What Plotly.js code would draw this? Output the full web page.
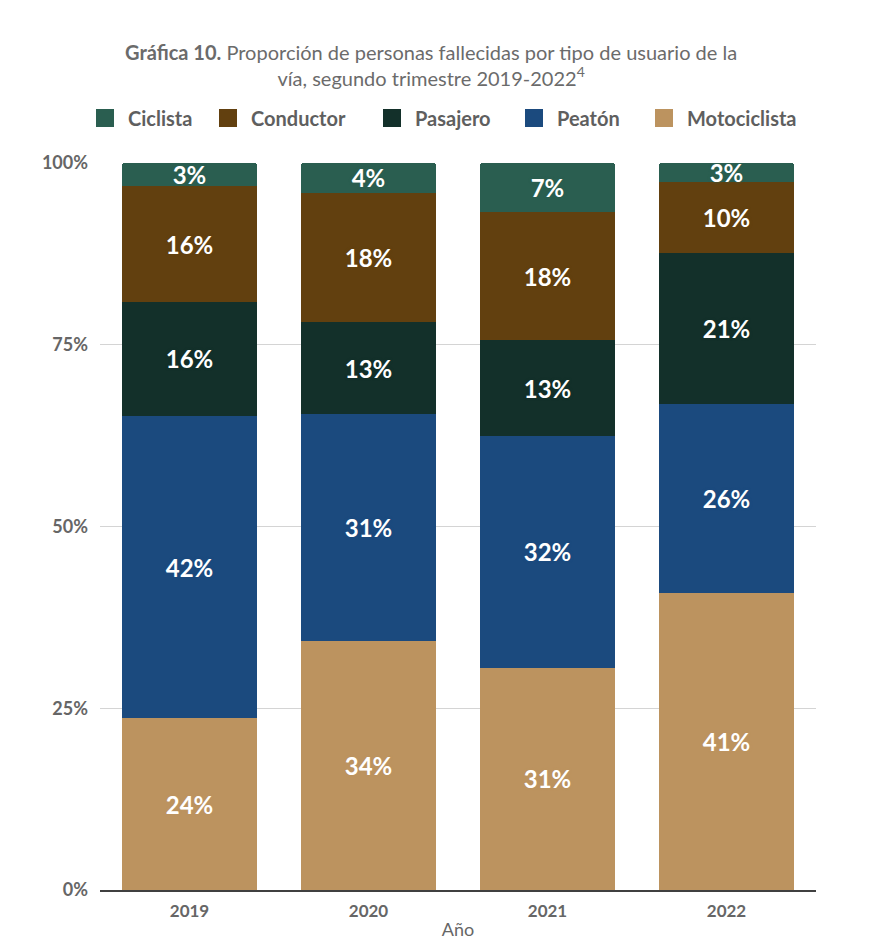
<!DOCTYPE html>
<html>
<head>
<meta charset="utf-8">
<script src="https://cdn.plot.ly/plotly-3.0.1.min.js"></script>
<style>html,body{margin:0;padding:0;background:#fff;}#chart{width:878px;height:946px;}</style>
</head>
<body>
<div id="chart"></div>
<script>
var years = ['2019', '2020', '2021', '2022'];
var motociclista = [23.6, 34.2, 30.6, 40.8];
var peaton = [41.6, 31.3, 31.8, 26.0];
var pasajero = [15.7, 12.6, 13.2, 20.8];
var conductor = [15.9, 17.8, 17.7, 9.8];
var ciclista = [3.2, 4.1, 6.7, 2.6];
var yTickVals = [0, 25, 50, 75, 100];
var yTickText = ['0%', '25%', '50%', '75%', '100%'];

var FONT = 'Lato, "Open Sans", sans-serif';

function series(name, vals, color) {
  return {
    type: 'bar', name: name, x: years, y: vals,
    marker: {color: color},
    texttemplate: '%{y:.0f}%',
    textposition: 'inside',
    insidetextanchor: 'middle',
    constraintext: 'none',
    textfont: {family: FONT, size: 24, color: '#ffffff', weight: 'bold', shadow: '0px 0px 3px ' + color},
    hoverinfo: 'skip',
    showlegend: false
  };
}
function legendEntry(name, color, legendId) {
  return {
    type: 'scatter', mode: 'markers', name: name, x: [null], y: [null],
    marker: {symbol: 'square', size: 16, color: color, line: {color: color, width: 2}},
    legend: legendId, showlegend: true, hoverinfo: 'skip'
  };
}

var colors = {
  'Motociclista': '#bc935f', 'Peatón': '#1b4a7e', 'Pasajero': '#13302a',
  'Conductor': '#62400f', 'Ciclista': '#2a5e50'
};

var data = [
  series('Motociclista', motociclista, colors['Motociclista']),
  series('Peatón', peaton, colors['Peatón']),
  series('Pasajero', pasajero, colors['Pasajero']),
  series('Conductor', conductor, colors['Conductor']),
  series('Ciclista', ciclista, colors['Ciclista']),
  legendEntry('Ciclista', colors['Ciclista'], 'legend'),
  legendEntry('Conductor', colors['Conductor'], 'legend2'),
  legendEntry('Pasajero', colors['Pasajero'], 'legend3'),
  legendEntry('Peatón', colors['Peatón'], 'legend4'),
  legendEntry('Motociclista', colors['Motociclista'], 'legend5')
];

function leg(xpx) {
  return {
    orientation: 'h', x: (xpx - 100) / 716, xanchor: 'left', y: 1.062, yanchor: 'middle',
    font: {family: FONT, size: 20, color: '#5f5f5f', weight: 'bold'},
    itemwidth: 36, bgcolor: 'rgba(0,0,0,0)'
  };
}

var layout = {
  width: 878, height: 946,
  margin: {l: 100, r: 62, t: 163, b: 56},
  paper_bgcolor: '#ffffff', plot_bgcolor: '#ffffff',
  barmode: 'stack',
  bargap: 0.246,
  barcornerradius: 3,
  font: {family: FONT, color: '#666666'},
  title: {
    text: '<b>Gráfica 10.</b> Proporción de personas fallecidas por tipo de usuario de la<br>vía, segundo trimestre 2019-2022<sup>4</sup>',
    font: {family: FONT, size: 20, color: '#6b6b6b'},
    x: 0.491, xanchor: 'center', xref: 'container',
    y: 0.937, yanchor: 'middle', yref: 'container'
  },
  showlegend: true,
  legend: leg(82),
  legend2: leg(205),
  legend3: leg(369),
  legend4: leg(511),
  legend5: leg(641),
  xaxis: {
    type: 'category',
    showline: true, linecolor: '#404040', linewidth: 1.5,
    ticks: '', ticklabelstandoff: 5,
    tickfont: {family: FONT, size: 17, color: '#666666', weight: 'bold'},
    title: {text: 'Año', font: {family: FONT, size: 18, color: '#666666'}, standoff: 3},
    showgrid: false, zeroline: false
  },
  yaxis: {
    range: [0, 100], tickvals: yTickVals, ticktext: yTickText,
    showgrid: true, gridcolor: '#d4d4d4', gridwidth: 1,
    zeroline: false, showline: false, ticks: '',
    ticklabelstandoff: 11,
    tickfont: {family: FONT, size: 18, color: '#666666', weight: 'bold'}
  }
};

Plotly.newPlot('chart', data, layout, {displayModeBar: false, staticPlot: true});
</script>
</body>
</html>
